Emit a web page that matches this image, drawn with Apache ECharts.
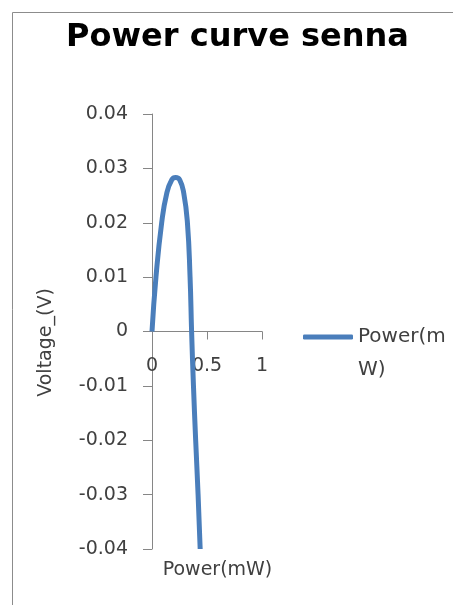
<!DOCTYPE html>
<html>
<head>
<meta charset="utf-8">
<script src="https://cdn.jsdelivr.net/npm/echarts@6/dist/echarts.min.js"></script>
<style>html,body{margin:0;padding:0;background:#fff;overflow:hidden}#c{width:453px;height:605px}</style>
</head>
<body>
<div id="c"></div>
<script>
var titleText = 'Power curve senna';
var seriesName = 'Power(mW)';
var xAxisName = 'Power(mW)';
var yAxisName = 'Voltage_(V)';
var powerValues = [0, 0.036, 0.088, 0.134, 0.18, 0.215, 0.252, 0.289, 0.322, 0.346, 0.360, 0.377, 0.397, 0.419, 0.438];
var voltageValues = [0, 0.01, 0.02, 0.0254, 0.0279, 0.0283, 0.0279, 0.0254, 0.02, 0.01, 0, -0.01, -0.02, -0.03, -0.04];
var xTicks = [0, 0.5, 1];
var yTicks = [-0.04, -0.03, -0.02, -0.01, 0, 0.01, 0.02, 0.03, 0.04];

var data = powerValues.map(function (p, i) { return [p, voltageValues[i]]; });
var font = 'DejaVu Sans';
var txt = '#404040';
var axisCol = '#868686';
var chart = echarts.init(document.getElementById('c'), null, {renderer: 'canvas'});
chart.setOption({
  animation: false,
  backgroundColor: '#fff',
  graphic: [{
    type: 'rect', shape: {x: 12.5, y: 12.5, width: 460, height: 620},
    style: {fill: 'none', stroke: '#8c8c8c', lineWidth: 1}, silent: true
  }],
  title: {
    text: titleText, left: 237.5, top: 22, textAlign: 'center', padding: 0,
    textStyle: {fontFamily: font, fontWeight: 'bold', fontSize: 32, lineHeight: 32, color: '#000'}
  },
  legend: {
    left: 303, top: 287.5, orient: 'vertical', padding: 0,
    icon: 'roundRect', itemWidth: 50, itemHeight: 5,
    formatter: function () { return '\nPower(m\nW)'; },
    textStyle: {fontFamily: font, fontSize: 20, color: txt, lineHeight: 33}
  },
  grid: {left: 152, width: 110, top: 114, height: 435, containLabel: false, outerBoundsMode: 'none'},
  xAxis: {
    type: 'value', min: 0, max: 1, interval: 0.5,
    name: xAxisName, nameLocation: 'middle', nameGap: 12, nameMoveOverlap: false,
    nameTextStyle: {fontFamily: font, fontSize: 19, lineHeight: 19, color: txt, padding: [0, 0, 0, 21], verticalAlign: 'top'},
    axisLine: {onZero: true, lineStyle: {color: axisCol, width: 1}},
    axisTick: {show: true, inside: false, length: 8, lineStyle: {color: axisCol}},
    axisLabel: {fontFamily: font, fontSize: 19, lineHeight: 19, color: txt, margin: -192.5,
      customValues: xTicks, formatter: function (v) { return String(v); }},
    splitLine: {show: false}
  },
  yAxis: {
    type: 'value', min: -0.04, max: 0.04, interval: 0.01,
    name: yAxisName, nameLocation: 'middle', nameGap: 96, nameRotate: 90, nameMoveOverlap: false,
    nameTextStyle: {fontFamily: font, fontSize: 19, lineHeight: 19, color: txt, padding: [0, 22, 0, 0]},
    axisLine: {show: true, onZero: false, lineStyle: {color: axisCol, width: 1}},
    axisTick: {show: true, inside: false, length: 9, lineStyle: {color: axisCol}},
    axisLabel: {fontFamily: font, fontSize: 19, lineHeight: 19, color: txt, margin: 24,
      customValues: yTicks,
      formatter: function (v) { var r = Math.round(v * 100) / 100; return r === 0 ? '0' : r.toFixed(2); }},
    splitLine: {show: false}
  },
  series: [{
    name: seriesName, type: 'line', data: data, smooth: 0.5,
    showSymbol: false, symbol: 'none',
    lineStyle: {color: '#4a7ebb', width: 5},
    itemStyle: {color: '#4a7ebb'}
  }]
});
</script>
</body>
</html>
